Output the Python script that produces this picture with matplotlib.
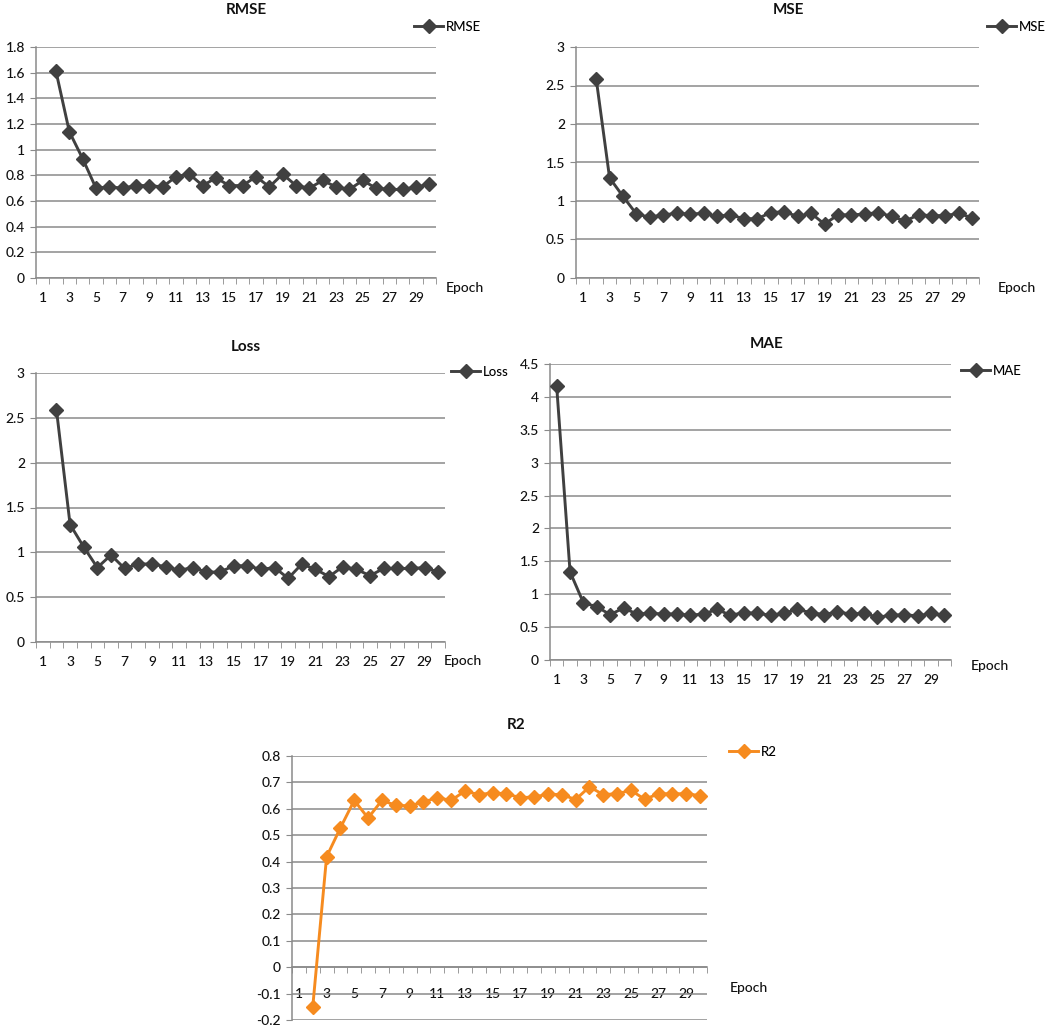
import matplotlib
matplotlib.use("Agg")
from matplotlib import pyplot as plt

plt.rcParams['font.family'] = ['Lato', 'DejaVu Sans']

W, H = 1059, 1026

epochs = list(range(1, 31))

# epoch 1 missing for everything except MAE
rmse = [None, 1.61, 1.14, 0.93, 0.70, 0.71, 0.70, 0.72, 0.72, 0.71,
        0.79, 0.81, 0.72, 0.78, 0.72, 0.72, 0.79, 0.71, 0.81, 0.72,
        0.70, 0.76, 0.71, 0.69, 0.76, 0.70, 0.69, 0.69, 0.71, 0.73]
mse = [None, 2.59, 1.30, 1.06, 0.83, 0.79, 0.82, 0.84, 0.83, 0.84,
       0.80, 0.82, 0.77, 0.77, 0.85, 0.86, 0.80, 0.84, 0.70, 0.82,
       0.82, 0.83, 0.85, 0.80, 0.74, 0.82, 0.81, 0.81, 0.84, 0.78]
loss = [None, 2.59, 1.31, 1.06, 0.83, 0.97, 0.82, 0.87, 0.87, 0.84,
        0.80, 0.83, 0.78, 0.78, 0.85, 0.85, 0.81, 0.83, 0.71, 0.87,
        0.81, 0.73, 0.84, 0.81, 0.74, 0.82, 0.82, 0.82, 0.83, 0.78]
mae = [4.16, 1.34, 0.87, 0.81, 0.69, 0.79, 0.70, 0.71, 0.70, 0.70,
       0.68, 0.70, 0.77, 0.68, 0.72, 0.71, 0.68, 0.71, 0.77, 0.72,
       0.69, 0.73, 0.70, 0.71, 0.65, 0.68, 0.69, 0.67, 0.71, 0.68]
r2 = [None, -0.15, 0.418, 0.528, 0.632, 0.565, 0.632, 0.613, 0.611, 0.626,
      0.642, 0.632, 0.667, 0.654, 0.660, 0.657, 0.642, 0.645, 0.655, 0.654,
      0.635, 0.683, 0.654, 0.657, 0.670, 0.636, 0.657, 0.657, 0.657, 0.650]

xtick_labels = [str(e) for e in range(1, 31, 2)]

grid_col = '#8a8a8a'
dark = '#404040'
orange = '#F68B1F'
txt = '#111111'

fig = plt.figure(figsize=(W / 100, H / 100), dpi=100)


def px_rect(x0, y0, x1, y1):
    return [x0 / W, 1 - y1 / H, (x1 - x0) / W, (y1 - y0) / H]


def fig_xy(x, y):
    return x / W, 1 - y / H


def panel(rect, values, name, ylim, ystep, color, title_xy, legend_xy, epoch_xy, zero_axis=False):
    ax = fig.add_axes(px_rect(*rect))
    xs = [e for e, v in zip(epochs, values) if v is not None]
    ys = [v for v in values if v is not None]
    ax.plot(xs, ys, color=color, lw=2.1, marker='D', markersize=6.8,
            markerfacecolor=color, markeredgecolor=color, label=name, zorder=3)
    ax.set_xlim(0.5, 30.5)
    ax.set_ylim(*ylim)
    n = round((ylim[1] - ylim[0]) / ystep)
    yt = [round(ylim[0] + i * ystep, 2) for i in range(n + 1)]
    ax.set_yticks(yt)
    ax.set_yticklabels(['%g' % t for t in yt])
    ax.yaxis.grid(True, color=grid_col, lw=1.1)
    ax.set_axisbelow(True)
    for s in ['top', 'right']:
        ax.spines[s].set_visible(False)
    for s in ['left', 'bottom']:
        ax.spines[s].set_color(grid_col)
        ax.spines[s].set_linewidth(1.1)
    if zero_axis:
        ax.spines['bottom'].set_position(('data', 0))
    ax.set_xticks(list(range(1, 31, 2)))
    ax.set_xticklabels(xtick_labels)
    ax.set_xticks([i + 0.5 for i in range(0, 31)], minor=True)
    ax.tick_params(axis='x', which='major', length=0, pad=15 if zero_axis else 10,
                   labelsize=10, labelcolor=txt)
    ax.tick_params(axis='x', which='minor', length=4, direction='out', color=grid_col)
    ax.tick_params(axis='y', length=4, color=grid_col, labelsize=10, labelcolor=txt, pad=4)
    for lab in ax.get_xticklabels() + ax.get_yticklabels():
        lab.set_fontweight('medium')

    fig.text(*fig_xy(*title_xy), name, ha='center', va='center',
             fontsize=11, fontweight='bold', color=txt)
    fig.text(*fig_xy(*epoch_xy), 'Epoch', ha='left', va='center', fontsize=10,
             fontweight='medium', color=txt)
    ax.legend(loc='center left', bbox_to_anchor=fig_xy(*legend_xy),
              bbox_transform=fig.transFigure, frameon=False,
              prop={'size': 9.5, 'weight': 'medium'},
              handlelength=2.2, handletextpad=0.2, borderpad=0, borderaxespad=0)
    return ax


panel((36, 47, 436, 278), rmse, 'RMSE', (0, 1.8), 0.2, dark,
      (246, 10), (414, 27), (446, 288))
panel((576, 47, 979, 278), mse, 'MSE', (0, 3), 0.5, dark,
      (788, 10), (987, 27), (998, 288))
panel((36, 373, 445, 642), loss, 'Loss', (0, 3), 0.5, dark,
      (246, 347), (451, 372), (444, 661))
panel((550, 364, 951, 660), mae, 'MAE', (0, 4.5), 0.5, dark,
      (767, 344), (961, 371), (971, 666))
panel((292, 756, 707, 1020), r2, 'R2', (-0.2, 0.8), 0.1, orange,
      (516, 725), (729, 752), (730, 988), zero_axis=True)

fig.savefig('out.png', dpi=100)
